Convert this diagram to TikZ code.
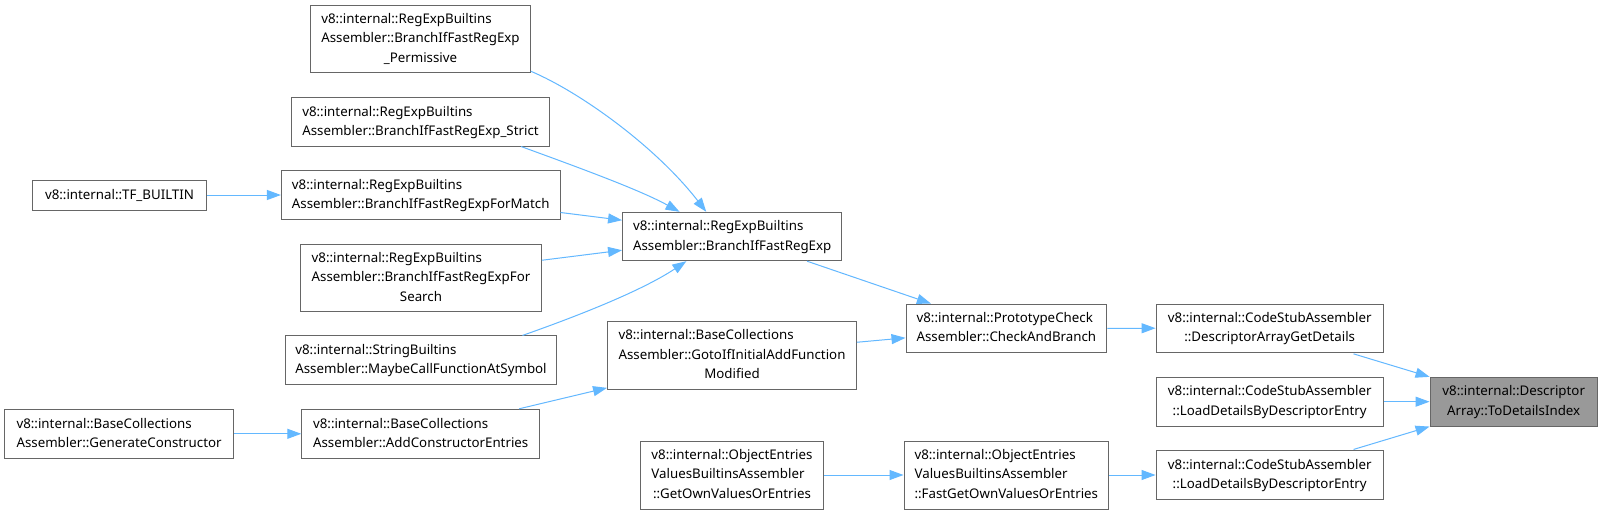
\documentclass[tikz,border=0pt]{standalone}
\usepackage{fontspec}
\setmainfont{Noto Sans}
\usetikzlibrary{arrows.meta,calc}
\definecolor{edgec}{HTML}{63B8FF}
\definecolor{boxc}{HTML}{666666}
\definecolor{hlc}{HTML}{999999}
\newcommand{\doxl}[1]{\begin{tabular}{@{}l@{}}#1\end{tabular}}
\newcommand{\lastc}[1]{\multicolumn{1}{@{}c@{}}{#1}}
\begin{document}
\begin{tikzpicture}[x=1pt,y=-1pt,
  box/.style={draw=boxc,line width=1pt,fill=white,inner sep=0pt,text=black,
    font=\fontsize{13.3}{19.3}\selectfont},
  hbox/.style={box,fill=hlc},
  edge/.style={draw=edgec,line width=1pt,-{Triangle[length=14pt,width=10pt,fill=edgec]}}]
\fill[white] (0,0) rectangle (1603,514);
\useasboundingbox (0,0) rectangle (1603,514);

\node[box,minimum width=219.7pt,minimum height=67.7pt] (perm) at (420.5,38.9)
  {\doxl{v8::internal::RegExpBuiltins\\Assembler::BranchIfFastRegExp\\\lastc{\_Permissive}}};
\node[box,minimum width=257.5pt,minimum height=48.5pt] (strict) at (420.5,121.8)
  {\doxl{v8::internal::RegExpBuiltins\\\lastc{Assembler::BranchIfFastRegExp\_Strict}}};
\node[box,minimum width=174pt,minimum height=30pt] (tfb) at (119.5,195)
  {v8::internal::TF\_BUILTIN};
\node[box,minimum width=278.6pt,minimum height=48.6pt] (match) at (420.7,195)
  {\doxl{v8::internal::RegExpBuiltins\\\lastc{Assembler::BranchIfFastRegExpForMatch}}};
\node[box,minimum width=240.7pt,minimum height=67.7pt] (search) at (421,277.9)
  {\doxl{v8::internal::RegExpBuiltins\\Assembler::BranchIfFastRegExpFor\\\lastc{Search}}};
\node[box,minimum width=270.7pt,minimum height=48.7pt] (maybe) at (421,360.3)
  {\doxl{v8::internal::StringBuiltins\\\lastc{Assembler::MaybeCallFunctionAtSymbol}}};
\node[box,minimum width=229pt,minimum height=49pt] (gen) at (119.1,433.8)
  {\doxl{v8::internal::BaseCollections\\\lastc{Assembler::GenerateConstructor}}};
\node[box,minimum width=237.8pt,minimum height=49pt] (addce) at (420.7,433.8)
  {\doxl{v8::internal::BaseCollections\\\lastc{Assembler::AddConstructorEntries}}};
\node[box,minimum width=219.3pt,minimum height=48.4pt] (bifr) at (732.2,236.5)
  {\doxl{v8::internal::RegExpBuiltins\\\lastc{Assembler::BranchIfFastRegExp}}};
\node[box,minimum width=248.9pt,minimum height=67.7pt] (goto) at (732,355.2)
  {\doxl{v8::internal::BaseCollections\\Assembler::GotoIfInitialAddFunction\\\lastc{Modified}}};
\node[box,minimum width=200.8pt,minimum height=48.7pt] (proto) at (1006.4,328.4)
  {\doxl{v8::internal::PrototypeCheck\\\lastc{Assembler::CheckAndBranch}}};
\node[box,minimum width=183.2pt,minimum height=68pt] (getown) at (732,475)
  {\doxl{v8::internal::ObjectEntries\\ValuesBuiltinsAssembler\\\lastc{::GetOwnValuesOrEntries}}};
\node[box,minimum width=204.6pt,minimum height=68pt] (fastget) at (1006.3,475)
  {\doxl{v8::internal::ObjectEntries\\ValuesBuiltinsAssembler\\\lastc{::FastGetOwnValuesOrEntries}}};
\node[box,minimum width=227.3pt,minimum height=48.3pt] (dagd) at (1269.7,328.2)
  {\doxl{v8::internal::CodeStubAssembler\\\lastc{::DescriptorArrayGetDetails}}};
\node[box,minimum width=227.3pt,minimum height=48.7pt] (ldone) at (1269.7,401.7)
  {\doxl{v8::internal::CodeStubAssembler\\\lastc{::LoadDetailsByDescriptorEntry}}};
\node[box,minimum width=227.3pt,minimum height=48.7pt] (ldtwo) at (1269.7,475)
  {\doxl{v8::internal::CodeStubAssembler\\\lastc{::LoadDetailsByDescriptorEntry}}};
\node[hbox,minimum width=167.3pt,minimum height=48.7pt] (tdi) at (1513.7,401.7)
  {\doxl{v8::internal::Descriptor\\\lastc{Array::ToDetailsIndex}}};

% connectors
\draw[edge] ($(perm.south east)+(0,-2)$) .. controls (582,93) and (657,148) .. ($(bifr.north west)+(84.2,0)$);
\draw[edge] ($(strict.south west)+(229.9,0)$) .. controls (580,168) and (640,190) .. ($(bifr.north west)+(57.5,0)$);
\draw[edge] (tfb.east) -- (match.west);
\draw[edge] ($(match.north east)+(0,42.3)$) -- ($(bifr.north west)+(0,8.4)$);
\draw[edge] ($(search.north east)+(0,16.7)$) -- ($(bifr.north west)+(0,38.4)$);
\draw[edge] ($(maybe.north west)+(237.3,0)$) .. controls (572,318) and (640,292) .. ($(bifr.south west)+(64.3,0)$);
\draw[edge] (gen.east) -- (addce.west);
\draw[edge] ($(addce.north west)+(217.8,0)$) -- ($(goto.south west)+(0,-1.7)$);
\draw[edge] ($(bifr.south west)+(185,0)$) -- ($(proto.north west)+(25.4,0)$);
\draw[edge] ($(goto.north east)+(0,21.4)$) -- ($(proto.north west)+(0,34.3)$);
\draw[edge] (proto.east) -- (dagd.west);
\draw[edge] (getown.east) -- (fastget.west);
\draw[edge] (fastget.east) -- (ldtwo.west);
\draw[edge] ($(dagd.south west)+(198,1)$) -- (tdi.north west);
\draw[edge] (ldone.east) -- (tdi.west);
\draw[edge] ($(ldtwo.north west)+(198,-0.7)$) -- (tdi.south west);
\end{tikzpicture}
\end{document}
